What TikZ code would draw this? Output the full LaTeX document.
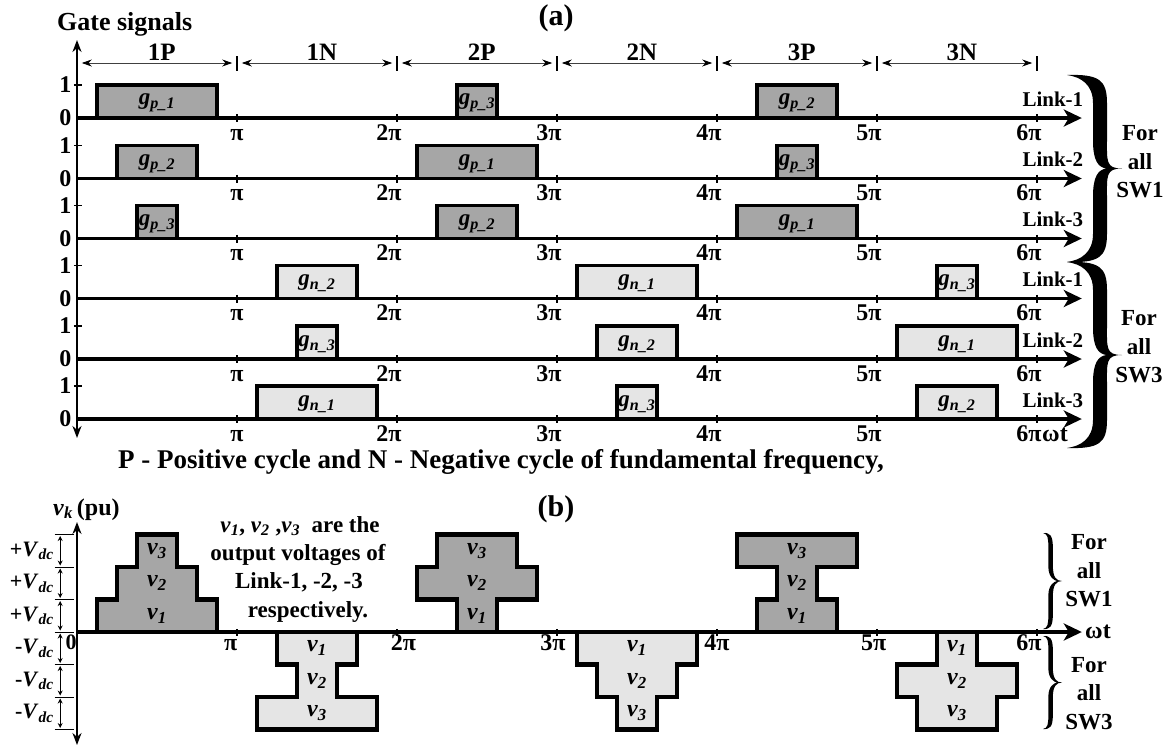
\documentclass[tikz,border=0pt]{standalone}
\usepackage{fontspec}
\setmainfont{Liberation Serif}
\usepackage{graphicx}
\usetikzlibrary{arrows.meta}

\newcommand\sv[2]{\textit{#1}\textsubscript{\textit{#2}}}
\newcommand\fs[1]{\fontsize{#1}{#1}\selectfont\bfseries}

\tikzset{
  base/.style={line width=3.2pt},
  bigarrow/.style={-{Stealth[length=18pt,width=17pt,inset=5pt]}},
  pulse/.style={line width=3.6pt, line join=miter},
  outl/.style={line width=4.4pt, line join=miter},
  dk/.style={fill=black!35},
  lt/.style={fill=black!10},
  tickm/.style={line width=1.8pt},
  axisl/.style={line width=2pt, {Stealth[length=12pt,width=9pt]}-{Stealth[length=12pt,width=9pt]}},
  ival/.style={line width=0.9pt, black!75, {Stealth[length=10pt,width=7pt,black]}-{Stealth[length=10pt,width=7pt,black]}},
  dimarr/.style={line width=0.9pt, {Stealth[length=5pt,width=5pt]}-{Stealth[length=5pt,width=5pt]}},
  tnum/.style={font=\fs{24}, inner sep=0pt},
  pil/.style={font=\fs{24}, inner sep=0pt, anchor=base},
  lk/.style={font=\fs{21}, inner sep=0pt, anchor=base east},
  glab/.style={font=\fs{23}, inner sep=0pt},
  vlab/.style={font=\fs{24}, inner sep=0pt},
  hd/.style={font=\fs{25}, inner sep=0pt, anchor=base},
  txt/.style={font=\fs{23}, inner sep=0pt, anchor=base},
  sw/.style={font=\fontsize{23}{28.5}\selectfont\bfseries, inner sep=0pt, align=center},
  vd/.style={font=\fs{22}, inner sep=0pt, anchor=east},
}

% gate signal row: #1 baseline y, #2 id, #3 link text
\newcommand\gaterow[3]{%
  \draw[base,bigarrow] (0,#1) -- (6.28,#1);
  \foreach \k in {1,...,6} \draw[tickm] (\k,#1-4) -- (\k,#1+4);
  \node[tnum] (one#2) at (-0.072,#1-33) {1};
  \node[tnum] (zero#2) at (-0.072,#1) {0};
  \draw[tickm] (-0.02,#1-33) -- (0.03,#1-33);
  \node[pil] (pi#2x1) at (1,#1+22) {π};
  \foreach \k in {2,...,6} \node[pil] (pi#2x\k) at (\k-0.05,#1+22) {\k π};
  \node[lk] (lk#2) at (6.29,#1-12) {#3};
}
% pulse: #1 baseline y, #2 start, #3 end, #4 fill, #5 name, #6 label
\newcommand\gp[6]{%
  \fill[#4] (#2,#1-1.5) rectangle (#3,#1-33);
  \draw[pulse] (#2,#1) -- (#2,#1-33) -- (#3,#1-33) -- (#3,#1);
  \node[glab] (#5) at ({(#2+#3)/2},#1-15) {#6};
}
% pyramid: #1 sign, #2-#7 intervals, #8 fill, #9 name
\newcommand\pyr[9]{%
  \pgfmathsetmacro\ya{632-(#1)*32.5}%
  \pgfmathsetmacro\yb{632-(#1)*65}%
  \pgfmathsetmacro\yc{632-(#1)*97.5}%
  \fill[#8] (#2,632) rectangle (#3,\ya);
  \fill[#8] (#4,\ya) rectangle (#5,\yb);
  \fill[#8] (#6,\yb) rectangle (#7,\yc);
  \draw[outl] (#2,632) -- (#2,\ya) -- (#4,\ya) -- (#4,\yb) -- (#6,\yb) -- (#6,\yc) -- (#7,\yc) -- (#7,\yb) -- (#5,\yb) -- (#5,\ya) -- (#3,\ya) -- (#3,632);
  \node[vlab] (#9a) at ({(#2+#3)/2},{(632+\ya)/2}) {\sv{v}{1}};
  \node[vlab] (#9b) at ({(#4+#5)/2},{(\ya+\yb)/2}) {\sv{v}{2}};
  \node[vlab] (#9c) at ({(#6+#7)/2},{(\yb+\yc)/2}) {\sv{v}{3}};
}
% filled right brace: #1 x left, #2 y top, #3 y bottom, #4 width, #5 stem thickness, #6 stem position (fraction)
\newcommand\thbrace[6]{%
  \pgfmathsetmacro\bh{(#3-#2)/2}%
  \pgfmathsetmacro\bm{(#3+#2)/2}%
  \pgfmathsetmacro\ba{#1+#6*#4}%
  \pgfmathsetmacro\bR{\ba+#5/2}%
  \pgfmathsetmacro\bL{\ba-#5/2}%
  \pgfmathsetmacro\bT{#1+#4}%
  \pgfmathsetmacro\bI{\bT-1.1*#5}%
  \fill (#1,#2) .. controls (\bR-0.15*#4,#2-0.01*\bh) and (\bR,#2+0.05*\bh) .. (\bR,#2+0.3*\bh)
   -- (\bR,\bm-0.32*\bh) .. controls (\bR,\bm-0.08*\bh) and (\bT-0.3*#4,\bm) .. (\bT,\bm)
   .. controls (\bT-0.3*#4,\bm) and (\bR,\bm+0.08*\bh) .. (\bR,\bm+0.32*\bh)
   -- (\bR,#3-0.3*\bh) .. controls (\bR,#3-0.05*\bh) and (\bR-0.15*#4,#3+0.01*\bh) .. (#1,#3)
   .. controls (#1+0.25*#4,#3-0.02*\bh) and (\bL,#3-0.1*\bh) .. (\bL,#3-0.3*\bh)
   -- (\bL,\bm+0.3*\bh) .. controls (\bL,\bm+0.08*\bh) and (\bI-0.15*#4,\bm+0.01*\bh) .. (\bI,\bm)
   .. controls (\bI-0.15*#4,\bm-0.01*\bh) and (\bL,\bm-0.08*\bh) .. (\bL,\bm-0.3*\bh)
   -- (\bL,#2+0.3*\bh) .. controls (\bL,#2+0.1*\bh) and (#1+0.25*#4,#2+0.02*\bh) .. (#1,#2) -- cycle;
}

\begin{document}
\begin{tikzpicture}[x=1pt,y=-1pt]
\useasboundingbox (0,0) rectangle (1171,748);

% ---------- (a) ----------
\node[font=\fs{26}, inner sep=0pt, anchor=base west] (gs) at (57,30) {Gate signals};
\node[font=\fs{30}, inner sep=0pt] (ta) at (556,18) {(a)};

\begin{scope}[x=160pt, xshift=77pt]
  \draw[axisl] (0,40) -- (0,438);
  \foreach \k/\lab [count=\i] in {0/1P,1/1N,2/2P,3/2N,4/3P,5/3N} {
    \draw[ival] (\k+0.03,63) -- (\k+0.97,63);
    \node[hd] (iv\i) at (\k+0.53,60) {\lab};
  }
  \foreach \k in {1,...,6} \draw[line width=1.3pt] (\k,56) -- (\k,71);

  % pulses
  \gp{118}{0.125}{0.875}{dk}{ga1}{\sv{g}{p\_1}}
  \gp{118}{2.375}{2.625}{dk}{ga2}{\sv{g}{p\_3}}
  \gp{118}{4.25}{4.75}{dk}{ga3}{\sv{g}{p\_2}}
  \gp{178.5}{0.25}{0.75}{dk}{gb1}{\sv{g}{p\_2}}
  \gp{178.5}{2.125}{2.875}{dk}{gb2}{\sv{g}{p\_1}}
  \gp{178.5}{4.375}{4.625}{dk}{gb3}{\sv{g}{p\_3}}
  \gp{238.5}{0.375}{0.625}{dk}{gc1}{\sv{g}{p\_3}}
  \gp{238.5}{2.25}{2.75}{dk}{gc2}{\sv{g}{p\_2}}
  \gp{238.5}{4.125}{4.875}{dk}{gc3}{\sv{g}{p\_1}}
  \gp{298.5}{1.25}{1.75}{lt}{gd1}{\sv{g}{n\_2}}
  \gp{298.5}{3.125}{3.875}{lt}{gd2}{\sv{g}{n\_1}}
  \gp{298.5}{5.375}{5.625}{lt}{gd3}{\sv{g}{n\_3}}
  \gp{359}{1.375}{1.625}{lt}{ge1}{\sv{g}{n\_3}}
  \gp{359}{3.25}{3.75}{lt}{ge2}{\sv{g}{n\_2}}
  \gp{359}{5.125}{5.875}{lt}{ge3}{\sv{g}{n\_1}}
  \gp{419}{1.125}{1.875}{lt}{gf1}{\sv{g}{n\_1}}
  \gp{419}{3.375}{3.625}{lt}{gf2}{\sv{g}{n\_3}}
  \gp{419}{5.25}{5.75}{lt}{gf3}{\sv{g}{n\_2}}

  \gaterow{118}{r1}{Link-1}
  \gaterow{178.5}{r2}{Link-2}
  \gaterow{238.5}{r3}{Link-3}
  \gaterow{298.5}{r4}{Link-1}
  \gaterow{359}{r5}{Link-2}
  \gaterow{419}{r6}{Link-3}
\end{scope}

\node[font=\fs{24}, inner sep=0pt, anchor=base west] (wta) at (1042,441) {ωt};
\thbrace{1067}{75}{262}{55}{14}{0.6}
\thbrace{1067}{262}{448}{55}{14}{0.6}
\node[sw] (swa) at (1140,162) {For\\all\\SW1};
\node[sw] (swb) at (1139,347) {For\\all\\SW3};

\node[font=\fs{27}, inner sep=0pt, anchor=base] (cap) at (501,468) {P - Positive cycle and N - Negative cycle of fundamental frequency,};

% ---------- (b) ----------
\node[font=\fs{30}, inner sep=0pt] (tb) at (556,509) {(b)};
\node[font=\fs{24}, inner sep=0pt, anchor=base west] (vk) at (53,515) {\sv{v}{k}\,(pu)};

\begin{scope}[x=160pt, xshift=77pt]
  \draw[axisl] (0,522) -- (0,745);
  \pyr{1}{0.125}{0.875}{0.25}{0.75}{0.375}{0.625}{dk}{pyA}
  \pyr{-1}{1.25}{1.75}{1.375}{1.625}{1.125}{1.875}{lt}{pyB}
  \pyr{1}{2.375}{2.625}{2.125}{2.875}{2.25}{2.75}{dk}{pyC}
  \pyr{-1}{3.125}{3.875}{3.25}{3.75}{3.375}{3.625}{lt}{pyD}
  \pyr{1}{4.25}{4.75}{4.375}{4.625}{4.125}{4.875}{dk}{pyE}
  \pyr{-1}{5.375}{5.625}{5.125}{5.875}{5.25}{5.75}{lt}{pyF}
  \draw[base,bigarrow] (0,632) -- (6.28,632);
  \foreach \k in {1,...,6} \draw[line width=1.4pt] (\k,629) -- (\k,636);

  \foreach \y in {534.5,567,599.5,632,664.5,697,729.5}
    \draw[line width=0.9pt] (-0.14,\y) -- (-0.02,\y);
  \foreach \a/\b in {534.5/567,567/599.5,599.5/632,632/664.5,664.5/697,697/729.5}
    \draw[dimarr] (-0.105,\a+1.5) -- (-0.105,\b-1.5);
  \foreach \a/\b [count=\i] in {534.5/567,567/599.5,599.5/632} {
    \node[vd] (vp\i) at (-0.145,{(\a+\b)/2}) {+\sv{V}{dc}};
  }
  \foreach \a/\b [count=\i] in {632/664.5,664.5/697,697/729.5} {
    \node[vd] (vn\i) at (-0.145,{(\a+\b)/2}) {-\sv{V}{dc}};
  }
  \node[pil] (bp1) at (0.96,650) {π};
  \node[pil] (bp2) at (2.04,650) {2π};
  \node[pil] (bp3) at (2.975,650) {3π};
  \node[pil] (bp4) at (4.0,650) {4π};
  \node[pil] (bp5) at (4.98,650) {5π};
  \node[pil] (bp6) at (5.95,650) {6π};
\end{scope}
\node[font=\fs{22}, inner sep=0pt] (zero) at (71,642) {0};
\node[font=\fs{24}, inner sep=0pt, anchor=west] (wtb) at (1085,632) {ωt};

\node[txt] (d1) at (300,532) {\sv{v}{1}, \sv{v}{2} ,\sv{v}{3}\ \ are the};
\node[txt] (d2) at (298,560) {output voltages of};
\node[txt] (d3) at (299,588.5) {Link-1, -2, -3};
\node[txt] (d4) at (308,617) {respectively.};

\thbrace{1043}{533}{629}{19}{4.5}{0.4}
\thbrace{1043}{636}{729}{19}{4.5}{0.4}
\node[sw] (swc) at (1089,571) {For\\all\\SW1};
\node[sw] (swd) at (1089,693.5) {For\\all\\SW3};
\end{tikzpicture}
\end{document}
